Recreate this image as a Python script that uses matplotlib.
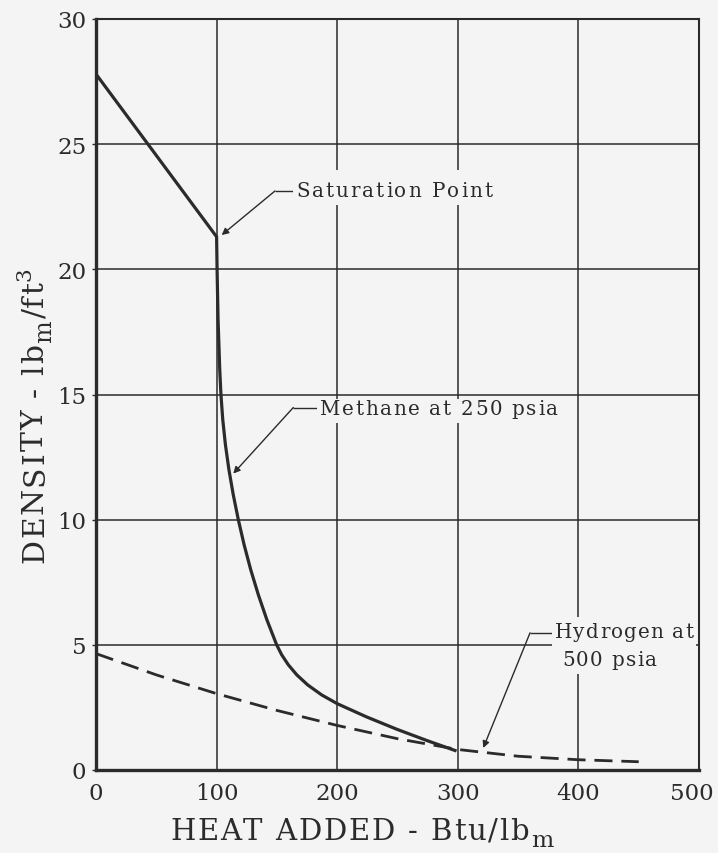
import matplotlib
matplotlib.use("Agg")
import matplotlib.pyplot as plt
from matplotlib.font_manager import FontProperties, findfont, get_font
from matplotlib.patches import Rectangle
from matplotlib.transforms import ScaledTranslation
import math

# ---------------- data ----------------
methane_x = [0, 100, 100.4, 101.2, 102.6, 103.6, 105.1, 107.3, 110.2, 113.8,
             118.0, 122.8, 128.3, 134.6, 141.7, 149.8, 154.0, 159.5, 166.5, 175.5,
             187.1, 200, 224.4, 249.3, 274.2, 297.7]
methane_y = [27.8, 21.3, 20.0, 18.0, 16.0, 15.0, 14.0, 13.0, 12.0, 11.0,
             10.0, 9.0, 8.0, 7.0, 6.0, 5.0, 4.6, 4.2, 3.8, 3.4,
             3.0, 2.65, 2.12, 1.63, 1.18, 0.78]

hydrogen_x = [0, 50, 100, 150, 200, 250, 300, 350, 400, 450]
hydrogen_y = [4.65, 3.8, 3.05, 2.38, 1.78, 1.25, 0.82, 0.55, 0.41, 0.33]

x_ticks = [0, 100, 200, 300, 400, 500]
y_ticks = [0, 5, 10, 15, 20, 25, 30]

FAMILY = 'DejaVu Serif'
plt.rcParams['font.family'] = [FAMILY]
plt.rcParams['mathtext.fontset'] = 'dejavuserif'

bg = '#f4f4f4'
ink = '#2b2b2b'
W, H, DPI = 718, 854, 100

fig = plt.figure(figsize=(W / DPI, H / DPI), dpi=DPI, facecolor=bg)
ax = fig.add_axes([96 / W, 1 - 771 / H, (699 - 96) / W, (771 - 20) / H])
ax.set_facecolor(bg)
ax.set_xlim(0, 500)
ax.set_ylim(0, 30)
ax.set_xticks(x_ticks)
ax.set_yticks(y_ticks)
ax.grid(True, color=ink, linewidth=1.1)
ax.set_axisbelow(True)
for side, lw in [('left', 2.4), ('bottom', 2.4), ('top', 1.5), ('right', 1.5)]:
    ax.spines[side].set_linewidth(lw)
    ax.spines[side].set_color(ink)
ax.tick_params(axis='x', length=0, pad=9, labelsize=16.5, colors=ink)
ax.tick_params(axis='y', length=3, width=1, pad=4, labelsize=16.5, colors=ink)
# last x label sits inside the figure edge, as in the reference
lbl = ax.get_xticklabels()[-1]
lbl.set_transform(lbl.get_transform() + ScaledTranslation(-0.07, 0, fig.dpi_scale_trans))

ax.plot(methane_x, methane_y, color=ink, linewidth=2.3, solid_joinstyle='miter', zorder=3)
ax.plot(hydrogen_x, hydrogen_y, color=ink, linewidth=2.0, dashes=(6.5, 3.2), zorder=3)

# ---------------- letter-spaced text helper ----------------
_font = get_font(findfont(FontProperties(family=FAMILY)))

def adv_px(ch, size):
    _font.set_size(size, 72)
    g = _font.load_char(ord(ch))
    return g.linearHoriAdvance / 65536.0 * DPI / 72.0

def tracked(x0, y0, segments, target_px, rotation=0, zorder=6):
    """x0, y0 in display pixels (baseline start). segments: (text, size_pt, shift_px)."""
    items = []
    for text, size, shift in segments:
        for ch in text:
            items.append((ch, size, shift, adv_px(ch, size)))
    natural = sum(i[3] for i in items)
    track = (target_px - natural) / (len(items) - 1)
    r = math.radians(rotation)
    ux, uy = math.cos(r), math.sin(r)
    nx, ny = -math.sin(r), math.cos(r)
    cum = 0.0
    for ch, size, shift, a in items:
        px = x0 + cum * ux + shift * nx
        py = y0 + cum * uy + shift * ny
        fig.text(px / W, py / H, ch, fontsize=size, color=ink, ha='left',
                 va='baseline', rotation=rotation, rotation_mode='anchor',
                 zorder=zorder)
        cum += a + track

def note(lines, elbow_x, line_y, tip, pad_top, pad_bot=9):
    """lines: list of (x_data, baseline_y_data, text, target_px)."""
    fs = 14.3
    cap = 0.729 * fs * DPI / 72
    xs, ys = [], []
    for xd, yd, text, target in lines:
        x0, y0 = ax.transData.transform((xd, yd))
        xs += [x0, x0 + target]
        ys += [y0 + cap, y0]
    box = Rectangle((min(xs) - 3, min(ys) - pad_bot), max(xs) - min(xs) + 6,
                    max(ys) - min(ys) + pad_top + pad_bot, transform=None,
                    facecolor=bg, edgecolor='none', zorder=4)
    fig.add_artist(box)
    for xd, yd, text, target in lines:
        x0, y0 = ax.transData.transform((xd, yd))
        tracked(x0, y0, [(text, fs, 0)], target)
    tx = ax.transData.inverted().transform((min(xs) - 2, 0))[0]
    ax.plot([elbow_x, tx], [line_y, line_y], color=ink, linewidth=1.0, zorder=5,
            solid_capstyle='butt')
    ax.annotate('', xy=tip, xytext=(elbow_x, line_y),
                arrowprops=dict(arrowstyle='-|>', color=ink, lw=1.0,
                                mutation_scale=10, shrinkA=0, shrinkB=0),
                zorder=5)

note([(165.8, 22.93, 'Saturation Point', 196)], 148.4, 23.13, (104.2, 21.37), pad_top=12)
note([(185.7, 14.21, 'Methane at 250 psia', 238)], 163.6, 14.48, (113.8, 11.84), pad_top=1)
note([(380.6, 5.31, 'Hydrogen at', 138), (386.4, 4.20, '500 psia', 95)],
     359.9, 5.48, (321.1, 0.88), pad_top=6)

# ---------------- axis titles ----------------
xs_ = 21
tracked(170, H - 840, [('HEAT ADDED - Btu/lb', xs_, 0), ('m', xs_ * 0.8, -7)], 383)
ys_ = 21.5
tracked(43, H - 563, [('DENSITY - lb', ys_, 0), ('m', ys_ * 0.8, -8),
                      ('/ft', ys_, 0), ('3', ys_ * 0.72, 13)], 296, rotation=90)

fig.savefig('out.png', dpi=DPI, facecolor=bg)
